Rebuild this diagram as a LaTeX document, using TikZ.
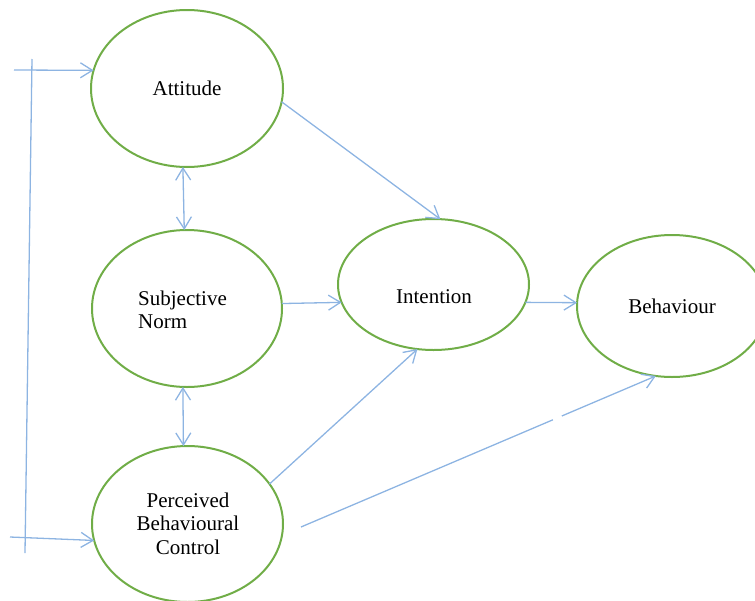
\documentclass[tikz,border=0pt]{standalone}
\usepackage{fontspec}
\setmainfont{Liberation Serif}
\usetikzlibrary{shapes.geometric,arrows.meta,calc}
\definecolor{elgreen}{RGB}{112,173,71}
\definecolor{lnblue}{RGB}{141,180,226}
\begin{document}
\begin{tikzpicture}[x=1pt,y=-1pt,
  oval/.style={ellipse, draw=elgreen, line width=2pt, inner sep=0pt, outer sep=0pt},
  lbl/.style={font=\fontsize{21}{23.5}\selectfont, align=center, inner sep=0pt},
  lnline/.style={draw=lnblue, line width=1.3pt},
  conn/.style={lnline, -{Straight Barb[length=12pt,width=15pt]}},
  connboth/.style={lnline, {Straight Barb[length=12pt,width=15pt]}-{Straight Barb[length=12pt,width=15pt]}}
]
\useasboundingbox (0,0) rectangle (755,600);

% ellipses
\node[oval, minimum width=192pt, minimum height=157pt] (att) at (187,88.5) {};
\node[oval, minimum width=190pt, minimum height=157pt] (sn) at (187,308.5) {};
\node[oval, minimum width=191pt, minimum height=156pt] (pbc) at (187.5,524) {};
\node[oval, minimum width=191pt, minimum height=131pt] (int) at (433.5,284.5) {};
\node[oval, minimum width=190pt, minimum height=142pt] (beh) at (672,306) {};

% labels
\node[lbl] (attT) at (187,88) {Attitude};
\node[lbl, align=left] (snT) at (182.5,310) {Subjective\\Norm};
\node[lbl] (pbcT) at (188,523.5) {Perceived\\Behavioural\\Control};
\node[lbl] (intT) at (434,297) {Intention};
\node[lbl] (behT) at (672,306) {Behaviour};

% connectors
\draw[conn] (att.-8.6) -- (int.84.3);
\draw[conn] (sn.3.3) -- (int.191);
\draw[conn] (int.-11) -- (beh.178.2);
\draw[conn] (pbc.26.7) -- (int.256.3);

\coordinate (pbcout) at (301,527);
\coordinate (gapA) at ($(pbcout)!0.71!(beh.257.3)$);
\coordinate (gapB) at ($(pbcout)!0.735!(beh.257.3)$);
\draw[lnline] (pbcout) -- (gapA);
\draw[conn] (gapB) -- (beh.257.3);

\draw[connboth] (att.267.1) -- (sn.92.9);
\draw[connboth] (sn.267.1) -- (pbc.93.3);

% feedback lines
\coordinate (fbT) at (32,59);
\coordinate (fbB) at (25,553);
\draw[lnline] (fbT) -- (fbB);
\coordinate (inA) at (14,70);
\draw[conn] (inA) -- (att.169.2);
\coordinate (inP) at (10,537);
\draw[conn] (inP) -- (pbc.190.9);
\end{tikzpicture}
\end{document}
